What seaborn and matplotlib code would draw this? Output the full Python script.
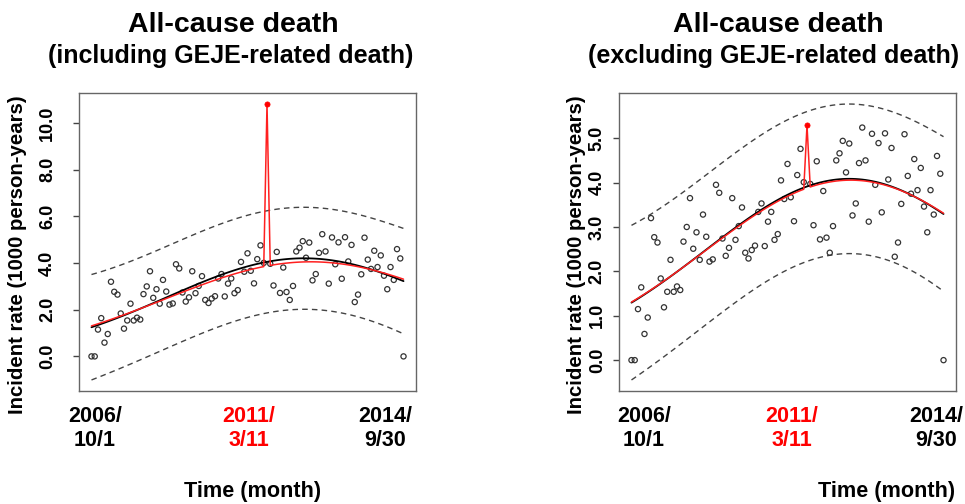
import numpy as np
import pandas as pd
import seaborn as sns
import matplotlib
matplotlib.use("Agg")
import matplotlib.pyplot as plt

sns.set_style("white")
plt.rcParams['font.family'] = ['Liberation Sans', 'DejaVu Sans']
plt.rcParams['font.weight'] = 'bold'
plt.rcParams['text.color'] = 'black'
plt.rcParams['ytick.color'] = 'black'

# ---------------- data ----------------
# monthly incidence (per 1000 person-years), month index 0 = 2006/10
rate_excluding = [
    0.00, 0.00, 1.15, 1.64, 0.59, 0.96, 3.20, 2.77, 2.65, 1.84,
    1.19, 1.54, 2.26, 1.54, 1.66, 1.58, 2.67, 3.00, 3.65, 2.51,
    2.88, 2.26, 3.28, 2.78, 2.22, 2.27, 3.95, 3.77, 2.74, 2.35,
    2.53, 3.65, 2.71, 3.02, 3.44, 2.42, 2.29, 2.48, 2.58, 3.34,
    3.53, 2.57, 3.12, 3.34, 2.71, 2.84, 4.05, 3.63, 4.42, 3.67,
    3.13, 4.17, 4.76, 4.01, 5.29, 3.97, 3.04, 4.48, 2.72, 3.81,
    2.76, 2.42, 3.02, 4.50, 4.66, 4.94, 4.23, 4.88, 3.26, 3.53,
    4.44, 5.24, 4.50, 3.12, 5.10, 3.95, 4.89, 3.33, 5.11, 4.07,
    4.78, 2.33, 2.65, 3.52, 5.09, 4.15, 3.75, 4.53, 3.83, 4.33,
    3.46, 2.88, 3.83, 3.28, 4.60, 4.20, 0.00,
]
spike_month = 54            # 2011/3/11 (Great East Japan Earthquake)
spike_including = 10.82     # value at the spike month when GEJE deaths are included
rate_including = list(rate_excluding)
rate_including[spike_month] = spike_including

months = list(range(len(rate_excluding)))

titles_line1 = ["All-cause death", "All-cause death"]
titles_line2 = ["(including GEJE-related death)", "(excluding GEJE-related death)"]
ylabel = "Incident rate (1000 person-years)"
xlabel = "Time (month)"
date_labels = ["2006/\n10/1", "2011/\n3/11", "2014/\n9/30"]
date_colors = ["black", "red", "black"]
yticks_left = [0, 2, 4, 6, 8, 10]
yticks_right = [0, 1, 2, 3, 4, 5]
T_975 = 1.986  # t quantile, 94 df


def wls(X, z, w):
    sw = np.sqrt(w)
    b, *_ = np.linalg.lstsq(X * sw[:, None], z * sw, rcond=None)
    return b


def poisson_fit(X, y):
    """Log-link Poisson regression by IRLS; returns fitted means."""
    b = np.zeros(X.shape[1])
    b[0] = np.log(y.mean())
    for _ in range(100):
        eta = X @ b
        mu = np.exp(eta)
        z = eta + (y - mu) / mu
        b = wls(X, z, mu)
    return np.exp(X @ b)


def fits(y):
    t = np.asarray(months, float) / 100.0
    y = np.asarray(y, float)
    X = np.column_stack([np.ones_like(t), t, t ** 2])
    fit = poisson_fit(X, y)
    n, p = X.shape
    s = np.sqrt(((y - fit) ** 2).sum() / (n - p))
    h = np.einsum('ij,jk,ik->i', X, np.linalg.inv(X.T @ X), X)
    half = T_975 * s * np.sqrt(1 + h)
    pulse = (np.asarray(months) == spike_month).astype(float)
    X2 = np.column_stack([X, pulse])
    red = poisson_fit(X2, y)
    return fit, fit - half, fit + half, red


W, H = 965, 504
fig = plt.figure(figsize=(W / 100, H / 100), dpi=100)

panels = [
    dict(y=rate_including, left=79, yticks=yticks_left, tickpad=12,
         ylab_x=18, t_cx=[233, 231], date_cx=[95, 249, 385], xl_cx=253),
    dict(y=rate_excluding, left=619, yticks=yticks_right, tickpad=5,
         ylab_x=577, t_cx=[778, 774], date_cx=[644, 792, 936], xl_cx=887),
]

for k, pnl in enumerate(panels):
    ax = fig.add_axes([pnl['left'] / W, 1 - 391 / H, 337 / W, (391 - 93) / H])
    y = pnl['y']
    fit, lo, hi, red = fits(y)
    df = pd.DataFrame(dict(month=months, rate=y, fit=fit, lo=lo, hi=hi, red=red))
    pts = df[df.month != spike_month]
    sp = df[df.month == spike_month]

    sns.scatterplot(data=pts, x='month', y='rate', ax=ax, marker='o', s=14,
                    facecolor='none', edgecolor='#333333', linewidth=0.9, zorder=3)
    for col in ['lo', 'hi']:
        sns.lineplot(data=df, x='month', y=col, ax=ax, color='#444444',
                     linewidth=1.0, linestyle=(0, (4, 3)), zorder=2)
    sns.lineplot(data=df, x='month', y='fit', ax=ax, color='black', linewidth=1.3, zorder=4)
    sns.lineplot(data=df, x='month', y='red', ax=ax, color='#ff2020', linewidth=1.1, zorder=5)
    sns.scatterplot(data=sp, x='month', y='rate', ax=ax, marker='o', s=14,
                    color='red', edgecolor='red', linewidth=0.5, zorder=6)

    n = len(months)
    ax.set_xlim(-0.04 * (n - 1), (n - 1) * 1.04)
    ymin = min(min(lo), min(y))
    ymax = max(max(hi), max(y))
    pad = 0.04 * (ymax - ymin)
    ax.set_ylim(ymin - pad, ymax + pad)
    ax.set_yticks(pnl['yticks'])
    ax.set_yticklabels([f"{v:.1f}" for v in pnl['yticks']], rotation=90,
                       va='center', fontsize=13, fontweight='bold', color='black')
    ax.set_xticks([])
    ax.set_xlabel('')
    ax.set_ylabel('')
    ax.tick_params(axis='y', left=True, length=4.5, width=1, color='#444444',
                   pad=pnl['tickpad'])
    for s in ax.spines.values():
        s.set_color('#666666')
        s.set_linewidth(1.0)

    fig.text(pnl['t_cx'][0] / W, 1 - 25 / H, titles_line1[k], ha='center', va='center',
             fontsize=20.5, fontweight='bold', color='black')
    fig.text(pnl['t_cx'][1] / W, 1 - 56 / H, titles_line2[k], ha='center', va='center',
             fontsize=18, fontweight='bold', color='black')
    fig.text(pnl['ylab_x'] / W, 1 - 255 / H, ylabel, rotation=90, ha='center', va='center',
             fontsize=14.7, fontweight='bold', color='black')
    for lab, col, cx in zip(date_labels, date_colors, pnl['date_cx']):
        fig.text(cx / W, 1 - 428.5 / H, lab, ha='center', va='center', color=col,
                 fontsize=15.5, fontweight='bold', linespacing=1.15)
    fig.text(pnl['xl_cx'] / W, 1 - 492 / H, xlabel, ha='center', va='center',
             fontsize=15.6, fontweight='bold', color='black')

fig.savefig('out.png', dpi=100)
